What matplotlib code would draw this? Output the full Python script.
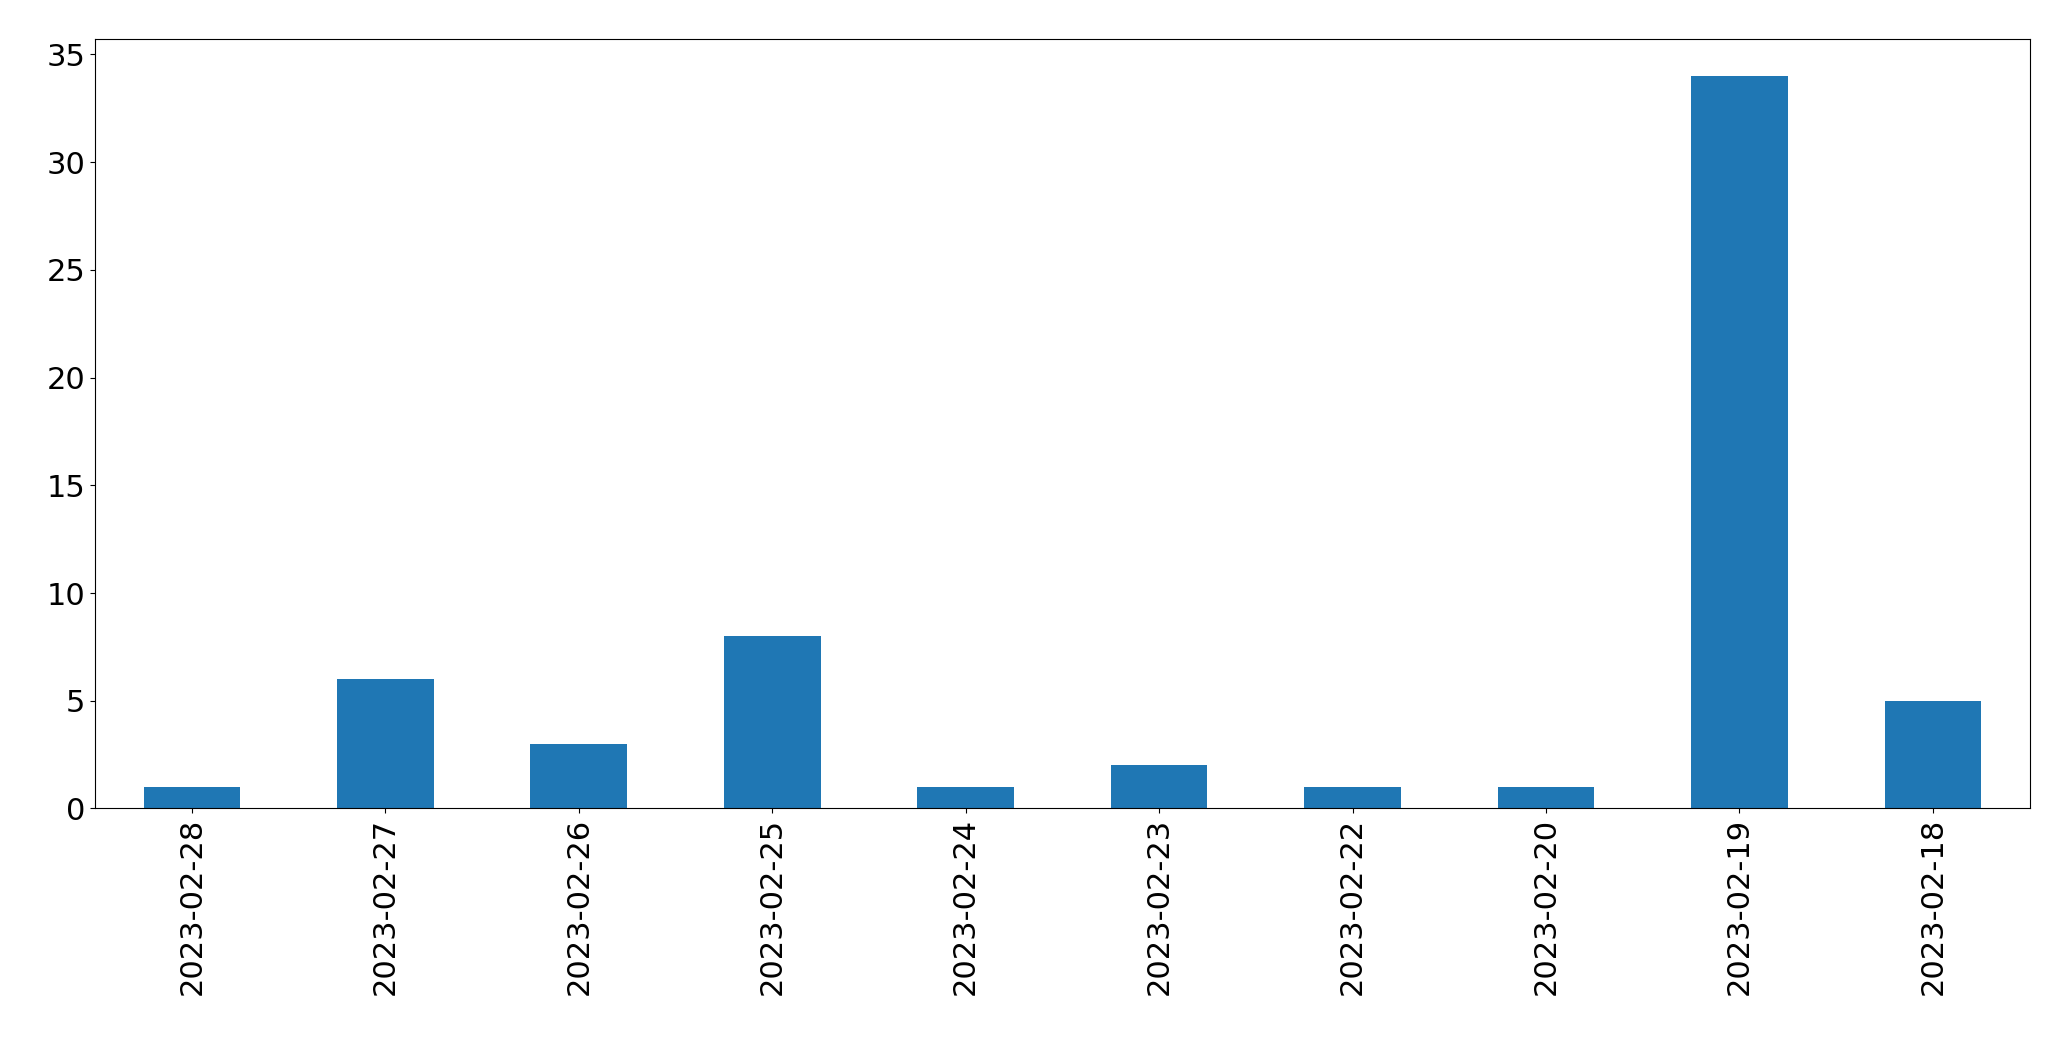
import matplotlib
matplotlib.use('Agg')
import matplotlib.pyplot as plt
import numpy as np

dates = ['2023-02-28', '2023-02-27', '2023-02-26', '2023-02-25', '2023-02-24',
         '2023-02-23', '2023-02-22', '2023-02-20', '2023-02-19', '2023-02-18']
counts = [1, 6, 3, 8, 1, 2, 1, 1, 34, 5]

fig = plt.figure(figsize=(20.71, 10.61), dpi=100)
ax = fig.add_axes([0.046, 0.238, 0.934, 0.725])

x = np.arange(len(dates))
ax.bar(x, counts, width=0.5, color='#1f77b4')
ax.set_xticks(x)
ax.set_xticklabels(dates, rotation=90)
ax.set_xlim(-0.5, len(dates) - 0.5)
ax.tick_params(labelsize=22)

plt.savefig('out.png', dpi=100)
